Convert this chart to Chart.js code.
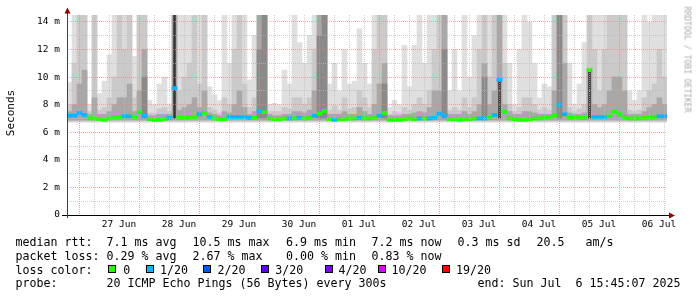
<!DOCTYPE html>
<html><head><meta charset="utf-8">
<script src="https://cdn.jsdelivr.net/npm/chart.js@4.4.1/dist/chart.umd.min.js"></script>
<style>
html,body{margin:0;padding:0;background:#fff;}
#wrap{position:relative;width:697px;height:297px;overflow:hidden;background:#fff;}
canvas{position:absolute;left:0;top:0;}
.t{position:absolute;font-family:"DejaVu Sans Mono",monospace;font-size:11.63px;line-height:14px;white-space:pre;color:#000;}
.sw{position:absolute;width:6px;height:6px;border:1px solid #000;top:265px;}
#ylab{position:absolute;font-family:"DejaVu Sans Mono",monospace;font-size:11px;line-height:12px;width:80px;text-align:center;left:-29px;top:107px;transform:rotate(-90deg);color:#000;}
#wm{position:absolute;font-family:"DejaVu Sans Mono",monospace;font-size:8px;line-height:9px;width:120px;text-align:center;left:627px;top:55px;transform:rotate(90deg);color:#a8a8a8;white-space:pre;}
</style></head><body>
<div id="wrap">
<canvas id="c" width="697" height="297"></canvas>
<div id="ylab">Seconds</div>
<div id="wm">RRDTOOL / TOBI OETIKER</div>
<div class="t" style="left:15.5px;top:235px">median rtt:</div>
<div class="t" style="left:106.5px;top:235px">7.1 ms avg</div>
<div class="t" style="left:192.5px;top:235px">10.5 ms max</div>
<div class="t" style="left:286px;top:235px">6.9 ms min</div>
<div class="t" style="left:371.5px;top:235px">7.2 ms now</div>
<div class="t" style="left:457.5px;top:235px">0.3 ms sd</div>
<div class="t" style="left:536.5px;top:235px">20.5</div>
<div class="t" style="left:585.5px;top:235px">am/s</div>
<div class="t" style="left:15.5px;top:248.5px">packet loss:</div>
<div class="t" style="left:106.5px;top:248.5px">0.29 % avg</div>
<div class="t" style="left:192.5px;top:248.5px">2.67 % max</div>
<div class="t" style="left:286px;top:248.5px">0.00 % min</div>
<div class="t" style="left:371.5px;top:248.5px">0.83 % now</div>
<div class="t" style="left:15.5px;top:262.5px">loss color:</div>
<div id="legend3"></div>
<div class="t" style="left:15.5px;top:276px">probe:</div>
<div class="t" style="left:106.5px;top:276px">20 ICMP Echo Pings (56 Bytes) every 300s</div>
<div class="t" style="left:477.5px;top:276px">end: Sun Jul  6 15:45:07 2025</div>
</div>
<script>
// ---- data ----
const days = ['27 Jun','28 Jun','29 Jun','30 Jun','01 Jul','02 Jul','03 Jul','04 Jul','05 Jul','06 Jul'];
const lossLabels = ['0','1/20','2/20','3/20','4/20','10/20','19/20'];
const lossColors = ['#26ff00','#00b8ff','#0059ff','#5e00ff','#7e00ff','#dd00ff','#ff0000'];
// median rtt (ms) per 2-hour bin
const median = [7.2,7.2,7.4,7.25,7.0,7.0,6.95,6.9,7.0,7.1,
 7.1,7.15,7.15,7.05,7.45,7.25,6.95,6.9,6.9,6.95,
 7.05,9.2,7.05,7.05,7.1,7.1,7.3,7.4,7.1,7.0,
 6.95,6.95,7.1,7.1,7.1,7.1,7.05,7.05,7.55,7.45,
 7.0,6.95,6.95,7.0,7.0,7.0,7.05,7.0,7.05,7.2,
 7.35,7.55,6.95,6.9,6.95,6.95,7.0,7.0,7.05,7.0,
 7.0,7.05,7.2,7.4,6.9,6.9,6.9,6.95,7.0,6.95,
 7.0,7.0,7.0,7.05,7.35,7.25,6.95,6.95,6.9,6.95,
 6.95,7.0,7.0,7.0,7.05,7.25,9.8,7.5,7.0,6.95,
 6.9,6.9,6.95,7.0,7.0,7.05,7.1,7.2,8.0,7.3,
 7.05,7.05,7.05,7.05,10.5,7.1,7.1,7.1,7.15,7.5,
 7.3,7.1,7.0,7.0,7.0,7.05,7.05,7.1,7.15,7.15];
// loss class per bin (index into lossColors)
const loss = [1,1,1,1,0,0,0,0,0,0, 0,1,1,0,0,1,0,0,0,0, 1,1,0,0,0,0,1,0,1,0,
 0,0,1,1,1,1,1,0,1,0, 0,0,0,0,1,0,1,0,0,1, 0,0,0,1,0,0,0,0,1,0,
 0,0,1,0,0,0,0,0,0,0, 1,0,1,1,1,1,0,0,0,0, 0,0,1,1,0,1,1,0,0,0,
 0,0,0,0,0,0,0,0,1,1, 0,0,0,0,0,1,1,1,0,0, 0,0,0,0,0,0,0,0,1,1];
// smoke: upper extents of lightest .. darkest bands (ms)
const smokeL = [9.6,14.5,14.5,14.5,8.0,14.5,8.8,9.7,11.6,14.5,
 14.5,14.5,14.5,11.5,14.5,14.5,8.3,8.0,9.5,10.0,
 8.0,14.5,14.5,14.5,14.5,14.5,14.5,14.5,9.3,8.7,
 8.3,14.5,11.0,14.5,14.5,14.5,9.8,13.0,14.5,14.5,
 8.0,8.1,8.0,10.5,9.5,14.5,12.5,11.0,13.0,14.5,
 14.5,14.5,9.5,11.0,9.0,12.0,9.5,9.7,13.5,11.0,
 9.5,14.5,14.5,14.5,7.8,8.3,8.0,12.3,9.3,12.3,
 14.5,11.0,14.5,14.5,14.5,14.5,9.0,12.0,9.0,14.5,
 10.0,13.0,14.5,14.5,14.5,14.5,14.5,14.5,11.0,8.0,
 12.0,14.5,14.0,11.0,8.5,9.5,9.3,14.5,14.5,14.5,
 11.0,8.0,9.5,12.5,14.5,14.5,14.5,14.5,14.5,14.5,
 14.5,14.5,9.0,8.3,9.0,14.5,14.0,14.5,14.5,14.5];
const smokeM = [8.0,11.0,14.5,14.5,7.5,14.5,7.6,7.8,8.5,10.0,
 14.5,12.0,14.5,8.5,14.5,14.5,7.4,7.4,7.7,7.8,
 7.5,14.5,9.0,10.0,11.0,14.5,9.5,14.5,7.8,7.6,
 7.4,8.5,8.0,12.0,14.5,9.5,7.8,8.5,14.5,14.5,
 7.5,7.5,7.5,7.8,7.7,8.5,8.5,8.0,8.5,12.0,
 14.5,14.5,7.6,7.9,7.6,8.5,7.7,7.8,9.0,8.5,
 7.8,12.0,14.5,14.5,7.3,7.5,7.4,7.8,7.6,8.0,
 8.5,8.0,9.0,12.0,14.5,14.5,7.6,7.8,7.6,8.5,
 7.8,8.5,12.0,14.5,10.0,14.5,14.5,11.0,8.0,7.5,
 7.8,8.5,8.5,8.0,7.6,7.8,7.6,14.5,14.5,14.5,
 7.8,7.5,7.7,8.0,14.5,12.0,9.0,12.0,14.5,14.5,
 14.5,14.5,7.6,7.5,7.6,8.5,9.0,9.5,12.0,10.0];
const smokeD = [7.5,8.0,9.5,10.5,7.3,8.5,7.3,7.3,7.5,8.0,
 8.5,8.5,9.5,7.5,9.0,12.0,7.2,7.2,7.3,7.3,
 7.3,14.5,7.6,7.8,8.0,8.5,7.8,9.0,7.4,7.3,
 7.2,7.5,7.4,8.0,9.0,7.8,7.3,7.5,14.5,14.5,
 7.3,7.2,7.2,7.3,7.3,7.5,7.5,7.4,7.6,9.0,
 14.5,14.5,7.3,7.3,7.3,7.5,7.3,7.3,7.8,7.5,
 7.3,8.0,9.5,11.0,7.2,7.2,7.2,7.3,7.3,7.4,
 7.5,7.4,7.8,9.0,9.0,14.5,7.3,7.3,7.3,7.5,
 7.3,7.5,8.0,11.0,8.0,9.0,14.5,8.0,7.5,7.3,
 7.3,7.5,7.5,7.4,7.3,7.3,7.3,9.0,14.5,11.0,
 7.4,7.3,7.3,7.4,10.5,8.0,7.8,8.0,9.0,10.0,
 10.0,9.0,7.3,7.3,7.3,7.5,7.8,8.0,8.5,8.0];
// heavy-loss dark smoke (0 = none)
const smokeE = [0,0,0,0,0,0,0,0,0,0, 0,0,0,0,0,10.0,0,0,0,0, 0,0,0,0,0,0,0,0,0,0,
 0,0,0,0,0,0,0,0,12.0,14.5, 0,0,0,0,0,0,0,0,0,0, 13.0,14.5,0,0,0,0,0,0,0,0,
 0,0,0,9.5,0,0,0,0,0,0, 0,0,0,0,0,12.0,0,0,0,0, 0,0,0,10.0,0,0,0,0,0,0,
 0,0,0,0,0,0,0,0,14.5,0, 0,0,0,0,0,0,0,0,0,0, 0,0,0,0,0,0,0,0,0,0];
// narrow near-black spike columns (0 = none)
const smokeX = [0,0,0,0,0,0,0,0,0,0, 0,0,0,0,0,0,0,0,0,0, 0,14.5,0,0,0,0,0,0,0,0,
 0,0,0,0,0,0,0,0,0,0, 0,0,0,0,0,0,0,0,0,0, 0,0,0,0,0,0,0,0,0,0,
 0,0,0,0,0,0,0,0,0,0, 0,0,0,0,0,0,0,0,0,0, 0,0,0,0,0,0,9.8,0,0,0,
 0,0,0,0,0,0,0,0,0,0, 0,0,0,0,10.5,0,0,0,0,0, 0,0,0,0,0,0,0,0,0,0];
const smokeFloor = 6.72;
const hours = median.map((_, i) => 2 * i + 1);        // bin centres, hours since 26 Jun 16:00
const xGrid = [];  for (let h = 2; h < 240; h += 6) xGrid.push(h);   // 6-hour grid
const yGrid = [];  for (let v = 0; v <= 14; v += 1) yGrid.push(v);

// ---- legend row 3 ----
const swX = [108,145.7,203.3,261,325,377.7,442.3];
const txX = [123.3,160,217.6,275.3,338.6,391.6,456];
const l3 = document.getElementById('legend3');
lossLabels.forEach((lab, i) => {
  const s = document.createElement('div'); s.className = 'sw';
  s.style.left = swX[i] + 'px'; s.style.background = lossColors[i]; l3.appendChild(s);
  const t = document.createElement('div'); t.className = 't';
  t.style.left = txX[i] + 'px'; t.style.top = '262.5px'; t.textContent = lab; l3.appendChild(t);
});

// ---- chart ----
Chart.defaults.font.family = '"DejaVu Sans Mono", monospace';
const bar = (arr, floor, color, order, pct) => ({
  data: arr.map((v, i) => ({ x: hours[i], y: v > 0 ? [floor, v] : null })),
  backgroundColor: color, borderWidth: 0, barPercentage: pct || 1, categoryPercentage: 1,
  grouped: false, order
});
const RED = 'rgba(240,130,130,0.7)', GRAY = 'rgba(185,185,185,0.7)';
const tv = c => (c && c.tick ? c.tick.value : NaN);
const axesPlugin = {
  id: 'axes',
  afterDraw(chart) {
    const c = chart.ctx, a = chart.chartArea;
    c.save();
    c.strokeStyle = '#000'; c.lineWidth = 1;
    c.beginPath(); c.moveTo(62, a.bottom + 0.5); c.lineTo(a.right + 4, a.bottom + 0.5); c.stroke();
    c.strokeStyle = '#404040';
    c.beginPath(); c.moveTo(a.left + 0.5, a.bottom + 3); c.lineTo(a.left + 0.5, 12); c.stroke();
    c.fillStyle = '#8b0000';
    c.beginPath(); c.moveTo(a.left - 2.5, 13.5); c.lineTo(a.left + 3.5, 13.5); c.lineTo(a.left + 0.5, 7.5); c.closePath(); c.fill();
    c.beginPath(); c.moveTo(a.right + 2, a.bottom - 2.5); c.lineTo(a.right + 2, a.bottom + 3.5); c.lineTo(a.right + 8, a.bottom + 0.5); c.closePath(); c.fill();
    c.restore();
  }
};
new Chart(document.getElementById('c'), {
  type: 'bar',
  data: { datasets: [
    bar(smokeL, smokeFloor, '#dfdfdf', 6),
    bar(smokeM, smokeFloor + 0.08, '#cacaca', 5),
    bar(smokeD, smokeFloor + 0.16, '#a8a8a8', 4),
    bar(smokeE, 7.0, '#8a8a8a', 3),
    bar(smokeX, 7.0, '#333333', 2, 0.5),
    { data: median.map((v, i) => ({ x: hours[i], y: [v - 0.11, v + 0.11] })),
      backgroundColor: loss.map(l => lossColors[l]), borderWidth: 0,
      barPercentage: 1, categoryPercentage: 1, grouped: false, order: 1 }
  ]},
  options: {
    responsive: false, animation: false, events: [],
    layout: { autoPadding: false, padding: { top: 15, right: 30, left: 0, bottom: 0 } },
    plugins: { legend: { display: false }, tooltip: { enabled: false } },
    scales: {
      x: {
        type: 'linear', min: 0, max: 240, offset: false,
        afterBuildTicks: s => { s.ticks = xGrid.map(v => ({ value: v })); },
        afterFit: s => { s.height = 82; },
        ticks: { autoSkip: false, maxRotation: 0, minRotation: 0, padding: 4, labelOffset: 2,
          color: '#000', font: { size: 9.5 },
          callback: v => { const k = (v - 20) / 24; return Number.isInteger(k) ? days[k] : ''; } },
        grid: { drawTicks: false, z: 1, lineWidth: 1,
          color: c => ((tv(c) - 8) % 24 === 0 ? RED : GRAY) },
        border: { display: false, dash: [1, 1] }
      },
      y: {
        min: 0, max: 14.5,
        afterBuildTicks: s => { s.ticks = yGrid.map(v => ({ value: v })); },
        afterFit: s => { s.width = 67; },
        ticks: { autoSkip: false, padding: 7, color: '#000', font: { size: 9.5 },
          callback: v => (v === 0 ? '0' : (v % 2 === 0 ? v + ' m' : '')) },
        grid: { drawTicks: false, z: 1, lineWidth: 1,
          color: c => (tv(c) % 2 === 0 ? RED : GRAY) },
        border: { display: false, dash: [1, 1] }
      }
    }
  },
  plugins: [axesPlugin]
});
</script>
</body></html>
